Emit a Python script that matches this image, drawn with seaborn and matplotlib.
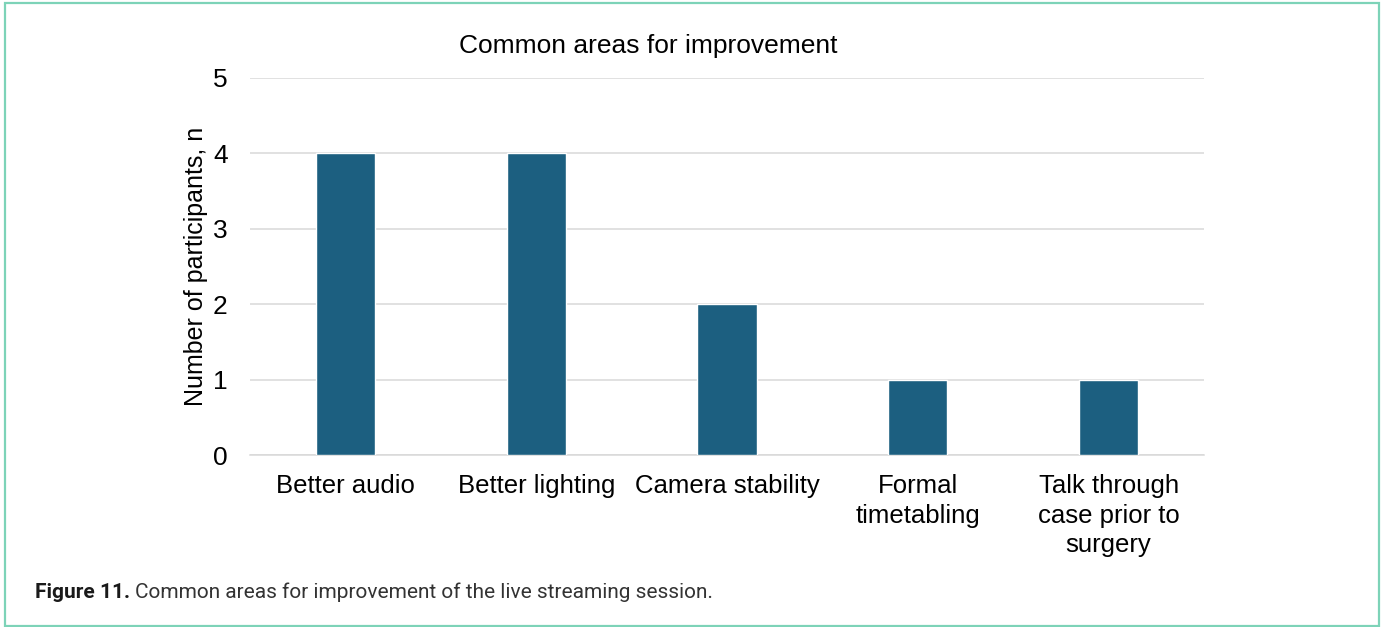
import matplotlib
matplotlib.use("Agg")
import matplotlib.pyplot as plt
from matplotlib.patches import Rectangle
import seaborn as sns
import pandas as pd

# Survey responses: areas participants felt could be improved
categories = [
    "Better audio",
    "Better lighting",
    "Camera stability",
    "Formal\ntimetabling",
    "Talk through\ncase prior to\nsurgery",
]
participants = [4, 4, 2, 1, 1]
y_ticks = [0, 1, 2, 3, 4, 5]

df = pd.DataFrame({"area": categories, "n": participants})

sns.set_theme(style="white")
plt.rcParams["font.family"] = ["Liberation Sans", "DejaVu Sans"]

fig = plt.figure(figsize=(13.86, 6.27), dpi=100)
ax = fig.add_axes([0.1804, 0.2743, 0.6883, 0.6013])

sns.barplot(data=df, x="area", y="n", color="#1c5f80", width=0.31,
            saturation=1, ax=ax, zorder=3)

ax.set_ylim(0, 5)
ax.set_yticks(y_ticks)
ax.set_xlim(-0.5, len(categories) - 0.5)
ax.yaxis.grid(True, color="#d9d9d9", linewidth=1.1, zorder=0)
ax.xaxis.grid(False)
for side in ["top", "right", "left"]:
    ax.spines[side].set_visible(False)
ax.spines["bottom"].set_color("#d9d9d9")
ax.spines["bottom"].set_linewidth(1.1)

ax.tick_params(axis="y", length=0, pad=16, labelsize=19, labelcolor="black")
ax.tick_params(axis="x", length=0, pad=14, labelsize=18.5, labelcolor="black")
for lbl in ax.get_xticklabels():
    lbl.set_linespacing(1.28)
ax.set_xlabel("")
ax.set_ylabel("Number of participants, n", fontsize=18, color="black", labelpad=4)

fig.text(0.4675, 0.926, "Common areas for improvement", ha="center", va="center",
         fontsize=19, color="black")

# Caption below the chart
cap_y = 1 - 592 / 627
t1 = fig.text(35 / 1386, cap_y, "Figure 11.", ha="left", va="center",
              fontsize=15, fontweight="bold", color="#1a1a1a",
              family=["Roboto", "DejaVu Sans"])
fig.canvas.draw()
bb = t1.get_window_extent()
fig.text((bb.x1 + 5) / 1386, cap_y,
         "Common areas for improvement of the live streaming session.",
         ha="left", va="center", fontsize=15, color="#333333",
         family=["Roboto", "DejaVu Sans"])

# Outer frame
fig.patches.append(Rectangle((5 / 1386, 1 / 627), 1374 / 1386, 623 / 627,
                             transform=fig.transFigure, fill=False,
                             edgecolor="#7dd3b8", linewidth=1.6))

fig.savefig("out.png", dpi=100)
